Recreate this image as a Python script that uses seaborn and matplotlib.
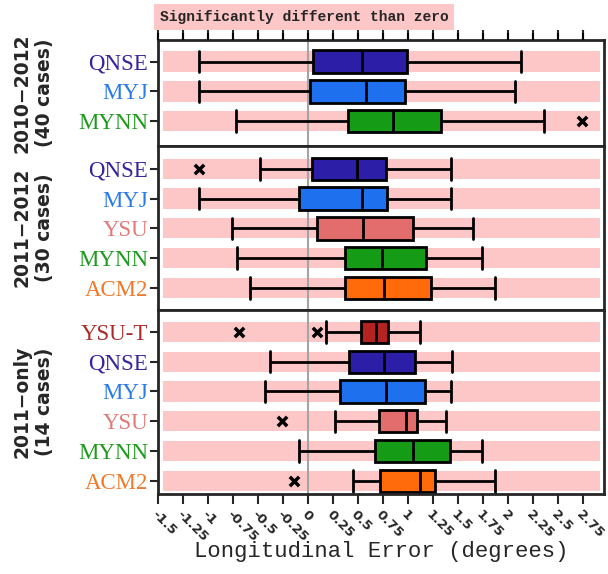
import numpy as np
import pandas as pd
import matplotlib
matplotlib.use('Agg')
import matplotlib.pyplot as plt
import seaborn as sns

# box summaries: whisker low, Q1, median, Q3, whisker high
p1_models = ['QNSE', 'MYJ', 'MYNN']
p1_lo = [-1.09, -1.09, -0.72]
p1_q1 = [0.05, 0.02, 0.40]
p1_med = [0.54, 0.58, 0.85]
p1_q3 = [0.99, 0.97, 1.33]
p1_hi = [2.13, 2.07, 2.36]
p1_out_model = ['MYNN']
p1_out_val = [2.74]

p2_models = ['QNSE', 'MYJ', 'YSU', 'MYNN', 'ACM2']
p2_lo = [-0.48, -1.09, -0.76, -0.71, -0.58]
p2_q1 = [0.04, -0.09, 0.09, 0.37, 0.37]
p2_med = [0.49, 0.54, 0.55, 0.74, 0.76]
p2_q3 = [0.78, 0.79, 1.05, 1.18, 1.23]
p2_hi = [1.43, 1.43, 1.65, 1.74, 1.87]
p2_out_model = ['QNSE']
p2_out_val = [-1.09]

p3_models = ['YSU-T', 'QNSE', 'MYJ', 'YSU', 'MYNN', 'ACM2']
p3_lo = [0.18, -0.38, -0.43, 0.27, -0.09, 0.45]
p3_q1 = [0.53, 0.41, 0.32, 0.71, 0.67, 0.72]
p3_med = [0.68, 0.76, 0.78, 0.98, 1.05, 1.12]
p3_q3 = [0.80, 1.07, 1.17, 1.09, 1.42, 1.27]
p3_hi = [1.12, 1.44, 1.43, 1.38, 1.74, 1.87]
p3_out_model = ['YSU-T', 'YSU-T', 'YSU', 'ACM2']
p3_out_val = [-0.69, 0.09, -0.26, -0.14]

group_labels = ['2010\u22122012\n(40 cases)', '2011\u22122012\n(30 cases)', '2011\u2212only\n(14 cases)']

xtick_vals = [-1.5, -1.25, -1, -0.75, -0.5, -0.25, 0, 0.25, 0.5, 0.75, 1,
              1.25, 1.5, 1.75, 2, 2.25, 2.5, 2.75]
xtick_labels = ['-1.5', '-1.25', '-1', '-0.75', '-0.5', '-0.25', '0', '0.25', '0.5',
                '0.75', '1', '1.25', '1.5', '1.75', '2', '2.25', '2.5', '2.75']

colors = {'QNSE': '#2d1ea8', 'MYJ': '#1f70ee', 'MYNN': '#169b16',
          'YSU': '#e36c6c', 'ACM2': '#ff6a0a', 'YSU-T': '#b52222'}
label_colors = {'QNSE': '#34249e', 'MYJ': '#2a7ae8', 'MYNN': '#1e9a1e',
                'YSU': '#e07a7a', 'ACM2': '#f07a2a', 'YSU-T': '#aa2a2a'}
pink = '#fdc6c7'

sns.set_style('ticks')
plt.rcParams['font.family'] = ['DejaVu Sans']

panels = [
    (p1_models, p1_lo, p1_q1, p1_med, p1_q3, p1_hi, p1_out_model, p1_out_val, (2.83, -0.72)),
    (p2_models, p2_lo, p2_q1, p2_med, p2_q3, p2_hi, p2_out_model, p2_out_val, (4.73, -0.77)),
    (p3_models, p3_lo, p3_q1, p3_med, p3_q3, p3_hi, p3_out_model, p3_out_val, (5.45, -0.75)),
]

fig = plt.figure(figsize=(6.08, 5.74), dpi=100)
gs = fig.add_gridspec(3, 1, height_ratios=[3.55, 5.5, 6.2], hspace=0,
                      left=0.26, right=0.993, top=0.930, bottom=0.139)

axes = []
for k, (models, lo, q1, med, q3, hi, om, ov, ylim) in enumerate(panels):
    ax = fig.add_subplot(gs[k])
    axes.append(ax)
    rows = []
    for i, m in enumerate(models):
        for v in (lo[i], q1[i], med[i], q3[i], hi[i]):
            rows.append({'model': m, 'value': v})
    df = pd.DataFrame(rows)

    for i in range(len(models)):
        ax.axhspan(i - 0.34, i + 0.34, xmin=0.012, xmax=0.992, color=pink, lw=0, zorder=0)
    ax.axvline(0, color='#a4a4a4', lw=1.5, zorder=0.5)

    sns.boxplot(data=df, x='value', y='model', hue='model', order=models, hue_order=models,
                palette=colors, saturation=1, width=0.75, whis=(0, 100), linecolor='black',
                linewidth=2, showfliers=False, legend=False, ax=ax, capwidths=0.72)

    ys = [models.index(m) for m in om]
    ax.scatter(ov, ys, marker='x', color='black', s=45, linewidths=2.5, zorder=5)

    ax.set_xlim(-1.5, 2.96)
    ax.set_ylim(*ylim)
    ax.set_xlabel('')
    ax.set_ylabel('')
    ax.set_yticks(range(len(models)))
    ax.set_yticklabels(models, fontfamily='Liberation Serif', fontsize=16.5)
    for t, m in zip(ax.get_yticklabels(), models):
        t.set_color(label_colors[m])
    ax.tick_params(axis='y', length=6, width=1.5, pad=1, direction='out', left=True)
    for s in ax.spines.values():
        s.set_linewidth(2)
        s.set_visible(True)
    ax.set_xticks(xtick_vals)

    pos = ax.get_position()
    fig.text(0.055, (pos.y0 + pos.y1) / 2, group_labels[k], rotation=90, ha='center',
             va='center', fontsize=13.5, fontweight='bold', multialignment='center')

axes[0].tick_params(axis='x', top=True, bottom=False, labeltop=False, labelbottom=False,
                    direction='out', length=7, width=1.5)
# tick marks above the first panel, drawn as short segments at the tick positions
axes[0].vlines(xtick_vals, 1.0, 1.065, transform=axes[0].get_xaxis_transform(),
               colors='black', linewidth=1.5, clip_on=False, zorder=10)
axes[1].tick_params(axis='x', top=False, bottom=False, labelbottom=False)
axes[2].tick_params(axis='x', bottom=True, top=False, direction='out', length=7, width=1.5, pad=3)
axes[2].set_xticklabels(xtick_labels, rotation=-45, ha='left', va='top',
                        rotation_mode='anchor', fontsize=9.5, fontweight='bold')

fig.text(0.627, 1 - 551 / 574, 'Longitudinal Error (degrees)', family='Liberation Mono',
         fontsize=16, ha='center', va='center')
fig.text(160 / 608, 1 - 17 / 574, 'Significantly different than zero', family='Liberation Mono',
         fontweight='bold', fontsize=10.5, ha='left', va='center',
         bbox=dict(facecolor=pink, edgecolor='none', pad=4))

fig.savefig('out.png', dpi=100)
